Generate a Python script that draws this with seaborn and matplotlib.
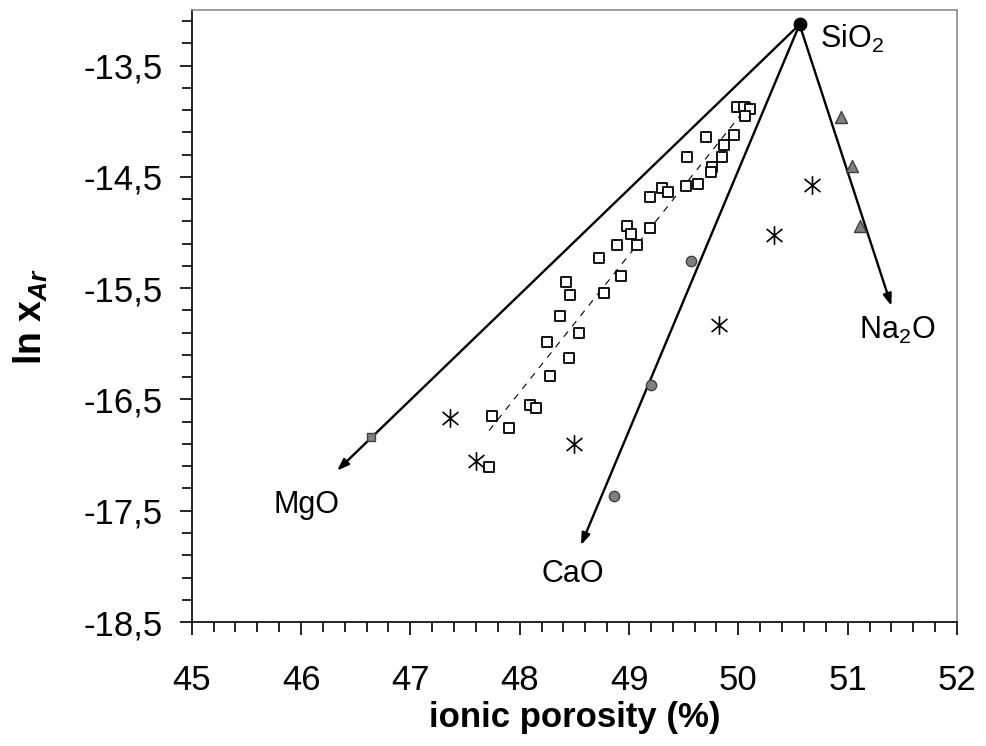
import numpy as np
import matplotlib
matplotlib.use("Agg")
import matplotlib.pyplot as plt
import matplotlib.ticker as mticker
from matplotlib.path import Path
import seaborn as sns

# =====================================
# DATA
# =====================================

# open squares (glass compositions)
sq_x = [49.99, 50.05, 50.11, 50.06, 49.70, 49.96, 49.87, 49.53, 49.85, 49.76,
        49.75, 49.30, 49.36, 49.52, 49.63, 49.19, 48.98, 49.02, 49.19, 48.89,
        49.07, 48.73, 48.93, 48.42, 48.46, 48.77, 48.37, 48.54, 48.25, 48.45,
        48.28, 48.09, 48.15, 47.75, 47.90, 47.72]
sq_y = [-13.87, -13.87, -13.89, -13.95, -14.14, -14.12, -14.21, -14.32, -14.32, -14.41,
        -14.46, -14.60, -14.64, -14.58, -14.56, -14.68, -14.94, -15.01, -14.96, -15.11,
        -15.11, -15.23, -15.39, -15.44, -15.56, -15.54, -15.75, -15.90, -15.98, -16.13,
        -16.29, -16.55, -16.58, -16.65, -16.76, -17.11]

# dashed trend through the squares
fit_x = [47.72, 50.12]
fit_y = [-16.78, -13.82]

# asterisks
ast_x = [47.36, 47.60, 48.50, 49.82, 50.33, 50.67]
ast_y = [-16.67, -17.05, -16.90, -15.83, -15.02, -14.57]

# grey circles (CaO join)
cao_x = [49.57, 49.20, 48.86]
cao_y = [-15.26, -16.37, -17.37]

# grey triangles (Na2O join)
na_x = [50.94, 51.04, 51.11]
na_y = [-13.96, -14.40, -14.94]

# grey square (MgO join)
mg_x = [46.64]
mg_y = [-16.84]

# SiO2 end member and arrow ends
sio2 = (50.56, -13.13)
arrow_end_x = [46.33, 48.56, 51.40]
arrow_end_y = [-17.14, -17.81, -15.66]

# =====================================
# STYLE
# =====================================

sns.set_style("ticks")
plt.rcParams["font.family"] = ["Liberation Sans", "DejaVu Sans"]
plt.rcParams["text.color"] = "black"
plt.rcParams["axes.labelcolor"] = "black"
plt.rcParams["xtick.color"] = "black"
plt.rcParams["ytick.color"] = "black"
plt.rcParams["mathtext.fontset"] = "custom"
plt.rcParams["mathtext.rm"] = "Liberation Sans"
plt.rcParams["mathtext.it"] = "Liberation Sans:italic"
plt.rcParams["mathtext.bf"] = "Liberation Sans:bold"
plt.rcParams["mathtext.bfit"] = "Liberation Sans:bold:italic"

# asterisk: vertical bar + X
star = Path(
    [(0, -1), (0, 1), (-0.85, -0.7), (0.85, 0.7), (-0.85, 0.7), (0.85, -0.7)],
    [Path.MOVETO, Path.LINETO, Path.MOVETO, Path.LINETO, Path.MOVETO, Path.LINETO],
)

fig = plt.figure(figsize=(9.87, 7.46), dpi=100)
ax = fig.add_axes([0.1942, 0.1662, 0.7754, 0.8204])

# =====================================
# LINES / ARROWS
# =====================================

sns.lineplot(x=fit_x, y=fit_y, ax=ax, color="black", lw=0.8,
             linestyle=(0, (6, 6)), zorder=2)

for ex, ey in zip(arrow_end_x, arrow_end_y):
    ax.annotate("", xy=(ex, ey), xytext=sio2,
                arrowprops=dict(arrowstyle="-|>,head_length=0.7,head_width=0.25",
                                lw=1.7, color="black",
                                shrinkA=0, shrinkB=0),
                zorder=3)

# =====================================
# POINTS
# =====================================

sns.scatterplot(x=sq_x, y=sq_y, ax=ax, marker="s", s=44,
                facecolor="white", edgecolor="black", linewidth=1.3, zorder=4)
sns.scatterplot(x=ast_x, y=ast_y, ax=ax, marker=star, s=180,
                color="black", edgecolor="black", linewidth=1.2, zorder=4)
sns.scatterplot(x=cao_x, y=cao_y, ax=ax, marker="o", s=55,
                facecolor="#808080", edgecolor="#404040", linewidth=1.0, zorder=4)
sns.scatterplot(x=na_x, y=na_y, ax=ax, marker="^", s=75,
                facecolor="#808080", edgecolor="#404040", linewidth=1.0, zorder=4)
sns.scatterplot(x=mg_x, y=mg_y, ax=ax, marker="s", s=40,
                facecolor="#808080", edgecolor="#404040", linewidth=1.0, zorder=4)
sns.scatterplot(x=[sio2[0]], y=[sio2[1]], ax=ax, marker="o", s=85,
                color="black", edgecolor="black", zorder=5)

# =====================================
# LABELS ON THE PLOT
# =====================================

ax.text(50.75, -13.34, "SiO$_2$", fontsize=22, ha="left", va="baseline")
ax.text(46.05, -17.52, "MgO", fontsize=22, ha="center", va="baseline")
ax.text(48.49, -18.14, "CaO", fontsize=22, ha="center", va="baseline")
ax.text(51.10, -15.96, "Na$_2$O", fontsize=22, ha="left", va="baseline")

# =====================================
# AXES
# =====================================

ax.set_xlim(45, 52)
ax.set_ylim(-18.5, -13.0)

ax.xaxis.set_major_locator(mticker.MultipleLocator(1))
ax.xaxis.set_minor_locator(mticker.MultipleLocator(0.2))
ax.yaxis.set_major_locator(mticker.FixedLocator(np.arange(-18.5, -13.4, 1.0)))
ax.yaxis.set_minor_locator(mticker.FixedLocator(np.arange(-18.3, -13.0, 0.2)))
ax.yaxis.set_major_formatter(
    mticker.FuncFormatter(lambda v, p: f"{v:.1f}".replace(".", ",")))

ax.tick_params(axis="both", which="major", direction="out", length=9,
               width=1.2, labelsize=25, colors="black")
ax.tick_params(axis="both", which="minor", direction="out", length=7,
               width=1.2)
ax.tick_params(axis="x", which="major", pad=21)
ax.tick_params(axis="y", which="major", pad=12)

ax.set_xlabel("ionic porosity (%)", fontsize=25, fontweight="bold", labelpad=3)
ax.set_ylabel(r"ln $\mathbf{x}_{\mathbfit{Ar}}$", fontsize=27,
              fontweight="bold", labelpad=24)

for side in ["top", "right"]:
    ax.spines[side].set_color("#8c8c8c")
    ax.spines[side].set_linewidth(1.2)
for side in ["left", "bottom"]:
    ax.spines[side].set_color("black")
    ax.spines[side].set_linewidth(1.2)

fig.savefig("out.png", dpi=100)
